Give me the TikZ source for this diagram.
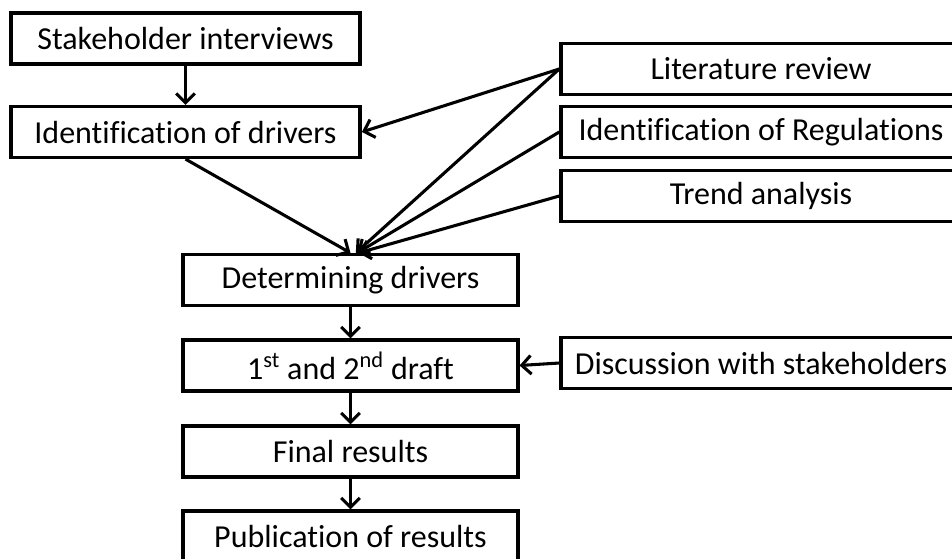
\documentclass[tikz,border=0pt]{standalone}
\usepackage{fontspec}
\setmainfont[Ligatures=NoCommon]{Carlito}
\usetikzlibrary{arrows.meta}

\tikzset{
  box/.style={draw, line width=2.6pt, minimum height=38pt, inner sep=0pt,
    font=\fontsize{24}{28}\selectfont},
  leftbox/.style={box, minimum width=262pt},
  midbox/.style={box, minimum width=251pt},
  rightbox/.style={box, minimum width=300pt},
  flow/.style={line width=2.3pt, -{Straight Barb[length=7pt,width=14pt,line width=2.3pt]}}
}

\begin{document}
\begin{tikzpicture}[x=0.75pt,y=-0.75pt]
    % page frame, the right column runs off the edge
    \clip (0,0) rectangle (952,558);

    % left column
    \node[leftbox] (stake) at (185.5,38.5) {Stakeholder interviews};
    \node[leftbox] (ident) at (185.5,132) {Identification of drivers};

    % sources on the right
    \node[rightbox] (lit)   at (761,69)  {Literature review};
    \node[rightbox] (regul) at (761,132) {Identification of Regulations};
    \node[rightbox] (trend) at (761,196) {Trend analysis};
    \node[rightbox] (discu) at (761,363) {Discussion with stakeholders};

    % main chain
    \node[midbox] (determ) at (350.5,280) {Determining drivers};
    \node[midbox] (draft)  at (350.5,365.5) {1\textsuperscript{st} and 2\textsuperscript{nd} draft};
    \node[midbox] (final)  at (350.5,451.5) {Final results};
    \node[midbox] (publ)   at (350.5,536.5) {Publication of results};

    % arrows
    \draw[flow] (stake.south) -- (ident.north);
    \draw[flow] (lit.west) -- (ident.east);
    \draw[flow] (ident.south) -- (determ.north);
    \draw[flow] (lit.west) -- ([xshift=4pt]determ.north);
    \draw[flow] (regul.west) -- ([xshift=5pt]determ.north);
    \draw[flow] (trend.west) -- ([xshift=6pt]determ.north);
    \draw[flow] (determ.south) -- (draft.north);
    \draw[flow] (discu.west) -- (draft.east);
    \draw[flow] (draft.south) -- (final.north);
    \draw[flow] (final.south) -- (publ.north);
\end{tikzpicture}
\end{document}
